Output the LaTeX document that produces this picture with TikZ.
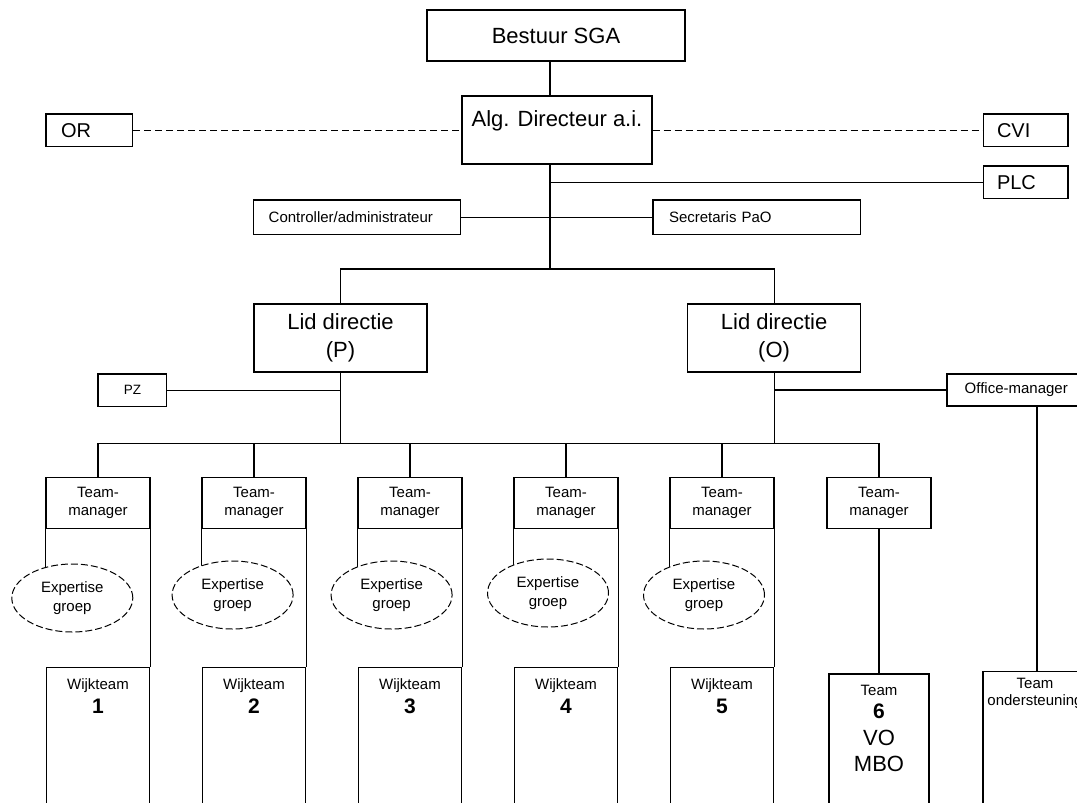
\documentclass[tikz,border=0pt]{standalone}
\usepackage{fontspec}
\setmainfont{Liberation Sans}
\usetikzlibrary{shapes.geometric,backgrounds}
\tikzset{
  box/.style={draw, line width=1.2pt, fill=white, inner sep=0pt},
  conn/.style={line width=1.2pt},
  dashconn/.style={line width=1.2pt, dash pattern=on 7pt off 4pt},
  bigfont/.style={font=\fontsize{22}{27.6}\selectfont},
  midfont/.style={font=\fontsize{20}{24}\selectfont},
  smallfont/.style={font=\fontsize{15}{17.7}\selectfont},
  egroup/.style={ellipse, draw, line width=1pt, dash pattern=on 7pt off 3pt, fill=white,
    minimum width=121pt, minimum height=68pt, inner sep=0pt, align=center,
    font=\fontsize{15}{18.4}\selectfont},
  tmbox/.style={box, minimum width=104pt, minimum height=51pt, align=center, smallfont},
  wkbox/.style={box, minimum width=103pt, minimum height=220pt, anchor=north},
  sidebox/.style={box, midfont, align=left, minimum height=32.7pt, inner ysep=0pt},
  lowbox/.style={box, smallfont, align=left, minimum height=34.7pt, inner ysep=0pt},
  txt/.style={anchor=base, inner sep=0pt}
}
\begin{document}
\begin{tikzpicture}[x=1pt,y=-1pt]
\useasboundingbox (0,0) rectangle (1077,803);
\clip (0,0) rectangle (1077,803);

% top level
\node[box, bigfont, minimum width=258pt, minimum height=51pt] (bestuur) at (556,35.5) {Bestuur SGA};
\node[box, bigfont, minimum width=190pt, text height=30pt, text depth=38pt] (alg) at (557,130) {Alg. Directeur a.i.};
\node[sidebox, text width=56.6pt, inner xsep=15pt] (or) at (89.3,130.3) {OR};
\node[sidebox, text width=57.5pt, inner xsep=13.5pt] (cvi) at (1025.75,130.3) {CVI};
\node[sidebox, text width=57.5pt, inner xsep=13.5pt] (plc) at (1025.75,182.3) {PLC};
\node[lowbox, text width=177pt, inner xsep=15pt] (ctrl) at (357.2,217.3) {Controller/administrateur};
\node[lowbox, text width=175.5pt, inner xsep=16pt] (sec) at (756.75,217.3) {Secretaris PaO};

% directie
\node[box, bigfont, align=center, minimum width=173pt, minimum height=68pt] (lidp) at (340.5,338) {Lid directie\\(P)};
\node[box, bigfont, align=center, minimum width=173pt, minimum height=68pt] (lido) at (774.1,338) {Lid directie\\(O)};
\node[box, font=\fontsize{13.5}{16}\selectfont, minimum width=68.7pt, minimum height=32.7pt] (pz) at (132.4,390.3) {PZ};
\node[lowbox, text width=104.6pt, inner xsep=17.7pt, minimum height=32pt] (office) at (1017,390) {Office-manager};

% team managers
\foreach \i/\x in {1/98,2/254,3/410,4/566,5/722,6/879}{
  \node[tmbox] (tm\i) at (\x,502.8) {Team-\\manager};
}
% expertise groups
\node[egroup] (e1) at (72.3,598) {Expertise\\groep};
\node[egroup] (e2) at (232.6,595) {Expertise\\groep};
\node[egroup] (e3) at (391.6,595) {Expertise\\groep};
\node[egroup] (e4) at (548,593) {Expertise\\groep};
\node[egroup] (e5) at (704,595) {Expertise\\groep};

% wijkteams
\foreach \i/\x in {1/98,2/254,3/410,4/566,5/722}{
  \node[wkbox] (w\i) at (\x,667) {};
  \node[txt, smallfont] (w\i a) at (\x,689.5) {Wijkteam};
  \node[txt, font=\fontsize{21}{21}\selectfont\bfseries] (w\i b) at (\x,713.2) {\i};
}
\node[box, minimum width=100pt, minimum height=220pt, anchor=north] (t6) at (879,673.3) {};
\node[txt, smallfont] (t6a) at (879,695.5) {Team};
\node[txt, font=\fontsize{21}{21}\selectfont\bfseries] (t6b) at (879,718.2) {6};
\node[txt, bigfont] (t6c) at (879,745.6) {VO};
\node[txt, bigfont] (t6d) at (879,771.9) {MBO};

\node[box, minimum width=108pt, minimum height=220pt, anchor=north] (tos) at (1037,670.7) {};
\node[txt, smallfont] (tosa) at (1035,688.4) {Team};
\node[txt, smallfont] (tosb) at (1035,705.5) {ondersteuning};

% connectors
\coordinate (sp) at (550,0);
\coordinate (hb) at (0,269);
\coordinate (tb) at (0,443.3);
\begin{scope}[on background layer]
  \fill[white] (0,0) rectangle (1077,803);
  \draw[conn] (bestuur.south -| sp) -- (alg.north -| sp);
  \draw[dashconn] (or.east) -- (alg.west |- or.east);
  \draw[dashconn] (alg.east |- cvi.west) -- (cvi.west);
  \draw[conn] (alg.south -| sp) -- (sp |- hb);
  \draw[conn] (plc.west) -- (plc.west -| sp);
  \draw[conn] (ctrl.east) -- (sec.west);
  \draw[conn] (lidp.north) -- (lidp.north |- hb) -- (lido.north |- hb) -- (lido.north);
  \draw[conn] (pz.east) -- (pz.east -| lidp.south);
  \draw[conn] (lidp.south) -- (lidp.south |- tb);
  \draw[conn] (lido.south) -- (lido.south |- tb);
  \draw[conn] (office.west) -- (office.west -| lido.south);
  \draw[conn] (tm1.north |- tb) -- (tm6.north |- tb);
  \foreach \i in {1,...,6}{
    \draw[conn] (tm\i.north) -- (tm\i.north |- tb);
  }
  \foreach \i in {1,...,5}{
    \draw[conn] (tm\i.south west) -- (tm\i.south west |- e\i.center);
    \draw[conn] (tm\i.south east) -- (tm\i.south east |- w\i.north);
  }
  \draw[conn] (tm6.south) -- (t6.north);
  \draw[conn] (tos.north |- office.south) -- (tos.north);
\end{scope}
\end{tikzpicture}
\end{document}
